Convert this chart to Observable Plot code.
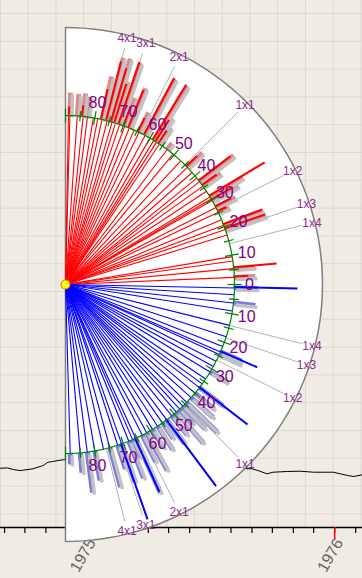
<!DOCTYPE html>
<html><head><meta charset="utf-8">
<script src="https://cdn.jsdelivr.net/npm/d3@7"></script>
<script src="https://cdn.jsdelivr.net/npm/@observablehq/plot@0.6"></script>
<style>
html,body{margin:0;padding:0;background:#f1ece3;}
#chart{position:relative;width:362px;height:578px;overflow:hidden;background:#f1ece3;font-family:"Liberation Sans",Arial,sans-serif;}
#chart > svg{position:absolute;left:0;top:0;}
</style></head><body><div id="chart"></div>
<script>
// ---------- data ----------
const upAngles = [89, 88.5, 86, 84, 82.5, 80.5, 79, 77.5, 75.7, 74, 72.8, 71.3, 69.5, 67.8, 66, 64.2, 61.9, 60, 58.5, 57.4, 56.2, 53, 50.5, 47, 43.9, 41.5, 39, 37.5, 35.6, 33.5, 31.2, 30.4, 29.8, 27.1, 25.3, 22.5, 20.5, 19, 17, 9.5, 8, 5.4, 2.4];
const upBars   = [0, 23, 22, 23, 20, 0, 0, 44, 65, 66, 43, 65, 30, 43, 0, 22, 64, 0, 64, 29, 20, 8, 0, 0, 21, 0, 0, 43, 22, 0, 38, 0, 30, 22, 12, 0, 42, 43, 0, 0, 0, 21, 21];
const upTips   = [0, 8, 0, 10, 0, 0, 0, 30, 60, 55, 40, 65, 20, 40, 0, 15, 64, 0, 64, 25, 15, 0, 0, 0, 15, 0, 0, 40, 18, 0, 65, 0, 25, 18, 10, 0, 42, 43, 0, 0, 0, 44, 15];

const downAngles = [-1.2, -3.5, -6.3, -9, -14, -18, -21.5, -23.5, -24.5, -27, -29, -31.2, -34, -36, -37.6, -40, -42, -44.2, -46, -47.5, -49, -51, -53.2, -55, -57, -59, -61.3, -63, -65.5, -66.6, -68, -70.6, -72, -74.8, -77, -80, -82.6, -85, -88.4];
const downBars   = [23, 0, 22, 0, 0, 0, 0, 23, 23, 0, 0, 20, 0, 0, 30, 25, 30, 43, 32, 20, 41, 25, 30, 19, 28, 22, 43, 30, 60, 20, 40, 40, 25, 41, 0, 30, 41, 20, 11];
const downTips   = [64, 0, 0, 0, 0, 0, 0, 41, 0, 0, 0, 0, 0, 0, 62, 0, 0, 0, 0, 0, 0, 0, 84, 0, 0, 0, 0, 0, 60, 0, 0, 81, 0, 0, 0, 0, 0, 0, 0];

const gannLabels = ["1x4", "1x3", "1x2", "1x1", "2x1", "3x1", "4x1"];
const gannRatios = [1/4, 1/3, 1/2, 1, 2, 3, 4];
const degreeLabels = [0, 10, 20, 30, 40, 50, 60, 70, 80];

const priceLeftDates  = ["1974-08-26","1974-09-05","1974-09-14","1974-09-24","1974-10-13","1974-10-28","1974-11-04","1974-11-11","1974-11-19","1974-11-26","1974-12-05"];
const priceLeftValues = [11.25, 11.3, 11.0, 10.8, 11.14, 11.76, 12.39, 12.52, 12.71, 12.84, 12.9];
const priceRightDates  = ["1975-08-15","1975-09-01","1975-09-10","1975-09-23","1975-10-02","1975-10-23","1975-11-11","1975-12-01","1975-12-30","1976-01-20","1976-01-29","1976-02-11"];
const priceRightValues = [11.2, 11.14, 10.8, 10.19, 10.49, 10.63, 10.68, 10.49, 10.49, 9.87, 9.68, 10.0];

const yearLabels = ["1975", "1976"];

// ---------- layout ----------
const W = 362, H = 578;
const R0 = 169, RO = 257, RG = 244, RL = 254, RD = 184;
const rad = d => d * Math.PI / 180;
const px = (r, a) => r * Math.cos(rad(a));
const py = (r, a) => r * Math.sin(rad(a));
const chart = document.getElementById("chart");

// ---------- layer A: paper grid ----------
const gridA = Plot.plot({
  width: W, height: H, margin: 0,
  x: {domain: [0, W / 27.72], range: [0, W], axis: null},
  y: {domain: [-13 / 27.8, (H - 13) / 27.8], range: [0, H], axis: null},
  style: {background: "transparent"},
  marks: [
    Plot.ruleX(d3.range(0, 14), {y1: -13 / 27.8, y2: (527 - 13) / 27.8, stroke: "#dcd9d3", strokeWidth: 1}),
    Plot.ruleY(d3.range(0, 19), {stroke: "#dcd9d3", strokeWidth: 1})
  ]
});
chart.appendChild(gridA);

// ---------- layer B: price line + time axis ----------
const left = priceLeftDates.map((d, i) => ({date: new Date(d), price: priceLeftValues[i]}));
const right = priceRightDates.map((d, i) => ({date: new Date(d), price: priceRightValues[i]}));
const start = new Date("1974-08-26"), end = new Date("1976-02-11");
const months = d3.utcMonth.range(new Date("1974-09-01"), end);
const years = yearLabels.map(y => new Date(`${y}-01-01`));
const timeB = Plot.plot({
  width: W, height: H, marginTop: 0, marginLeft: 0, marginRight: 0, marginBottom: 51,
  x: {type: "utc", domain: [start, end], axis: null},
  y: {domain: [0, 100], axis: null},
  style: {background: "transparent", overflow: "visible"},
  marks: [
    Plot.line(left, {x: "date", y: "price", stroke: "#000", strokeWidth: 1}),
    Plot.line(right, {x: "date", y: "price", stroke: "#000", strokeWidth: 1}),
    Plot.ruleY([0], {stroke: "#000", strokeWidth: 1.5}),
    Plot.axisX({ticks: months, tickSize: 6, tickFormat: () => "", stroke: "#000", strokeWidth: 1.2}),
    Plot.axisX({ticks: years, tickSize: 12, tickFormat: () => "", stroke: "#ff0000", strokeWidth: 1.5}),
    Plot.text(years, {x: d => d, text: (d, i) => yearLabels[i], frameAnchor: "bottom", dx: 9, dy: 15,
      rotate: -60, textAnchor: "end", fontSize: 16, fill: "#666", fontFamily: "Liberation Sans, Arial, sans-serif"})
  ]
});
chart.appendChild(timeB);

// ---------- layer C: Gann fan ----------
const rays = [
  ...upAngles.map((a, i) => ({a, bar: upBars[i], tip: upTips[i], up: true})),
  ...downAngles.map((a, i) => ({a, bar: downBars[i], tip: downTips[i], up: false}))
];
const bars = rays.filter(d => d.bar > 0);
const tips = rays.filter(d => d.tip > 0);
const gann = [1, -1].flatMap(s => gannRatios.map((r, i) => ({a: s * Math.atan(r) * 180 / Math.PI, label: gannLabels[i]})));
const degTicks = d3.range(-90, 90.1, 5).map(a => ({a, major: a % 10 === 0}));
const degLabs = [...degreeLabels.map(v => ({a: v, v})), ...degreeLabels.filter(v => v > 0).map(v => ({a: -v, v}))];
const arc = r => d3.range(90, -90.5, -2).map(a => ({x: px(r, a), y: py(r, a)}));
const origin = [{x: 0, y: 0}];

const fanC = Plot.plot({
  width: W, height: H, margin: 0,
  x: {domain: [-65, W - 65], range: [0, W], axis: null},
  y: {domain: [284, 284 - H], range: [0, H], axis: null},
  style: {background: "transparent", overflow: "visible"},
  marks: [
    Plot.areaX(arc(RO), {y: "y", x1: 0, x2: "x", fill: "#ffffff"}),
    Plot.line(arc(RO), {x: "x", y: "y", stroke: "#808080", strokeWidth: 1.5}),
    Plot.ruleX(origin, {x: "x", y1: -RO, y2: RO, stroke: "#808080", strokeWidth: 1.5}),
    // Gann angle lines
    Plot.link(gann, {x1: d => px(R0, d.a), y1: d => py(R0, d.a), x2: d => px(RG, d.a), y2: d => py(RG, d.a), stroke: "#b4b4b4", strokeWidth: 1}),
    // inner rays
    Plot.link(rays, {x1: 0, y1: 0, x2: d => px(R0, d.a), y2: d => py(R0, d.a), stroke: d => d.up ? "#ff0000" : "#0000ff", strokeWidth: 1.1}),
    // bars: pale coloured outline + gray body
    Plot.link(bars, {x1: d => px(R0, d.a), y1: d => py(R0, d.a), x2: d => px(R0 + d.bar, d.a), y2: d => py(R0 + d.bar, d.a),
      stroke: d => d.up ? "#dc8c8c" : "#7c7ce0", strokeWidth: 5}),
    Plot.link(bars, {x1: d => px(R0, d.a), y1: d => py(R0, d.a), x2: d => px(R0 + d.bar, d.a), y2: d => py(R0 + d.bar, d.a),
      stroke: "#c2c2c2", strokeWidth: 3.5, dx: 2, dy: 2}),
    // coloured tips
    Plot.link(tips, {x1: d => px(R0, d.a), y1: d => py(R0, d.a), x2: d => px(R0 + d.tip, d.a), y2: d => py(R0 + d.tip, d.a),
      stroke: d => d.up ? "#ff0000" : "#0000ff", strokeWidth: 2, dx: -1, dy: -1}),
    // green degree circle
    Plot.line(arc(R0), {x: "x", y: "y", stroke: "#008000", strokeWidth: 1.2}),
    Plot.link(degTicks, {x1: d => px(d.major ? R0 - 7 : R0 - 5, d.a), y1: d => py(d.major ? R0 - 7 : R0 - 5, d.a),
      x2: d => px(d.major ? R0 + 7 : R0 + 5, d.a), y2: d => py(d.major ? R0 + 7 : R0 + 5, d.a), stroke: "#008000", strokeWidth: 1.2}),
    Plot.text(degLabs, {x: d => px(RD, d.a), y: d => py(RD, d.a), text: d => String(d.v), fill: "#800080", fontSize: 16,
      fontFamily: "Liberation Sans, Arial, sans-serif"}),
    Plot.text(gann, {x: d => px(RL, d.a), y: d => py(RL, d.a), text: "label", fill: "#8e2a8e", fontSize: 12,
      fontFamily: "Liberation Sans, Arial, sans-serif"}),
    Plot.dot(origin, {x: "x", y: "y", r: 4.5, fill: "#ffff00", stroke: "#e08000", strokeWidth: 1.2})
  ]
});
chart.appendChild(fanC);
</script></body></html>
